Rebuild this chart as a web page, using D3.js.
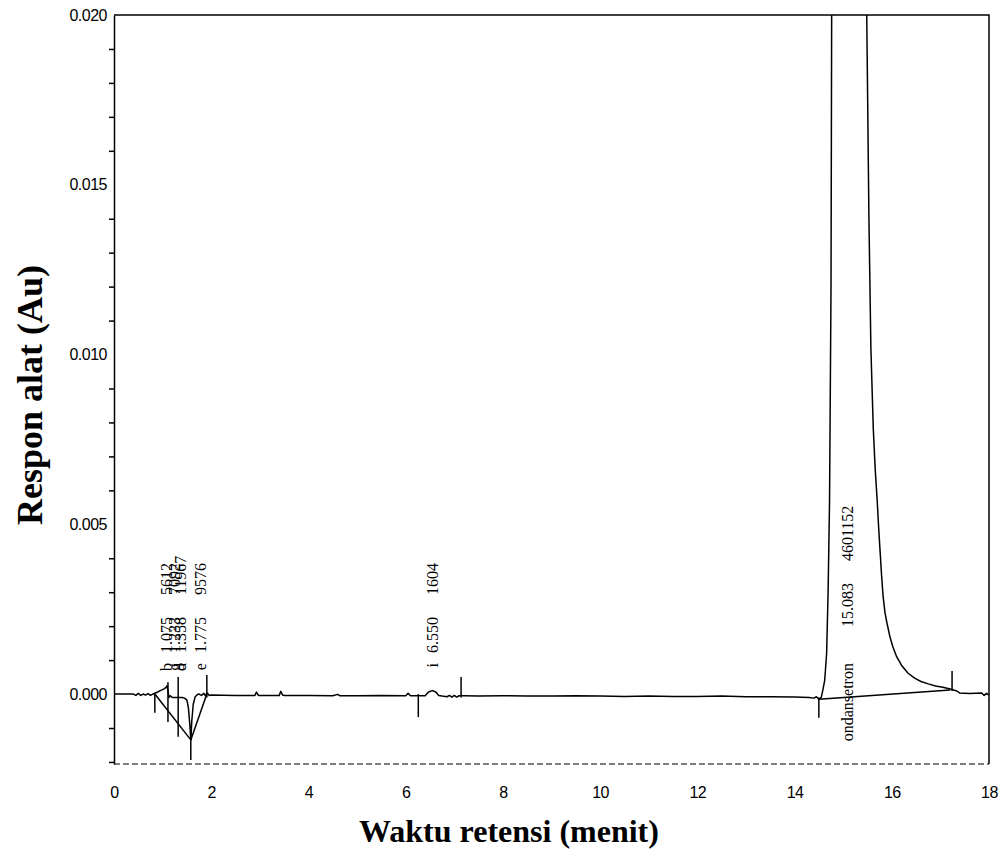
<!DOCTYPE html>
<html>
<head>
<meta charset="utf-8">
<script src="https://cdn.jsdelivr.net/npm/d3@7"></script>
<style>
  body { margin: 0; background: #fff; }
</style>
</head>
<body>
<div id="chart"></div>
<script>
// retention time (min) and detector response (AU)
var times = [0, 0.2, 0.4, 0.45, 0.5, 0.55, 0.6, 0.65, 0.7, 0.75, 0.8, 0.85, 0.9, 0.95, 1.0, 1.04, 1.07, 1.09, 1.11, 1.13,
  1.16, 1.2, 1.25, 1.3, 1.35, 1.4, 1.45, 1.5, 1.53, 1.56, 1.58, 1.6, 1.63, 1.67, 1.71, 1.75, 1.8, 1.85, 1.88, 1.92,
  1.96, 2.0, 2.5, 2.9, 2.93, 2.97, 3.0, 3.4, 3.43, 3.47, 3.5, 4.0, 4.5, 4.6, 4.65, 5.0, 5.5, 6.0, 6.05, 6.1,
  6.4, 6.47, 6.55, 6.62, 6.68, 6.75, 6.85, 6.9, 6.95, 7.0, 7.05, 7.1, 7.2, 7.5, 8.0, 8.5, 9.0, 9.5, 10.0, 10.5,
  11.0, 11.5, 12.0, 12.5, 13.0, 13.5, 14.0, 14.3, 14.4, 14.45, 14.5, 14.55, 14.58, 14.62, 14.66, 14.69, 14.72, 14.75, 14.78, 15.08,
  15.47, 15.5, 15.53, 15.57, 15.62, 15.66, 15.7, 15.73, 15.76, 15.79, 15.82, 15.86, 15.9, 15.96, 16.02, 16.1, 16.2, 16.33, 16.47, 16.6,
  16.75, 16.9, 17.05, 17.2, 17.34, 17.4, 17.6, 17.85, 17.9, 17.95, 18.0];
var signal = [0, 0, 0, -0.00004, 0.00002, -0.00004, 0, -0.00003, 0.00001, -0.00004, 0, 0.00003, 0.00006, 0.0001, 0.00013, 0.00016, 0.0002, 0.00024, 0.0001, -0.0001,
  -0.00005, -0.0001, -0.0001, -0.0001, -0.0001, -0.0001, -0.00012, -0.00018, -0.0004, -0.0009, -0.00135, -0.0008, -0.0003, -0.00008, -0.00002, 0, -0.00004, 0.00002, -0.00005, 0.00003,
  -0.00004, -0.00003, -0.00004, -0.00004, 0.00006, -0.00004, -0.00004, -0.00004, 0.00008, -0.00003, -0.00004, -0.00004, -0.00005, -0.00001, -0.00005, -0.00005, -0.00004, -0.00005, 0.00002, -0.00005,
  -0.00005, 0.00006, 0.0001, 0.00006, -0.00004, -0.00006, -0.00008, -0.00004, -0.00009, -0.00004, -0.00009, -0.00005, -0.00005, -0.00006, -0.00005, -0.00006, -0.00006, -0.00005, -0.00006, -0.00007,
  -0.00006, -0.00007, -0.00007, -0.00006, -0.00008, -0.00008, -0.00009, -0.0001, -0.00012, -0.00008, -0.00015, -0.0001, 0.0001, 0.0004, 0.0012, 0.003, 0.0057, 0.012, 0.03, 0.06,
  0.022, 0.018, 0.014, 0.0102, 0.0078, 0.0066, 0.0057, 0.0049, 0.0042, 0.0035, 0.0029, 0.0024, 0.0021, 0.0017, 0.0014, 0.0011, 0.00085, 0.00062, 0.00047, 0.00037,
  0.0003, 0.00024, 0.0002, 0.00015, 0.00009, 0.00003, 0.00002, 0.00003, -0.00004, 0.00002, -0.00003];

// peak table: name, retention time, area
var peakNames = ["b", "g", "d", "e", "i", "ondansetron"];
var peakTimes = [1.075, 1.233, 1.358, 1.775, 6.550, 15.083];
var peakAreas = [5612, 7092, 11967, 9576, 1604, 4601152];

// integration baselines drawn under the peaks
var baseFrom = [[0.84, 0], [1.58, -0.00135], [14.50, -0.00015]];
var baseTo = [[1.58, -0.00135], [1.91, 0], [17.2, 0.00012]];

// peak start / end markers: time, upper and lower value
var markTimes = [0.84, 1.11, 1.32, 1.58, 1.91, 6.26, 7.14, 14.50, 17.24];
var markHigh = [0, 0.00035, 0.0005, -0.00112, 0.00056, 0, 0.0005, -0.0001, 0.00068];
var markLow = [-0.00055, -0.00082, -0.00126, -0.00194, -0.0001, -0.00068, -0.0001, -0.0007, 0.00009];

// axis ticks
var xTicks = [0, 2, 4, 6, 8, 10, 12, 14, 16, 18];
var yMajor = [0, 0.005, 0.010, 0.015, 0.020];
var yMinor = [-0.002, -0.001, 0.001, 0.002, 0.003, 0.004, 0.006, 0.007, 0.008, 0.009,
  0.011, 0.012, 0.013, 0.014, 0.016, 0.017, 0.018, 0.019];

var margin = {top: 15, right: 15, bottom: 89, left: 114},
    width = 1004 - margin.left - margin.right,
    height = 853 - margin.top - margin.bottom;

var svg = d3.select("#chart")
  .append("svg")
    .attr("width", width + margin.left + margin.right)
    .attr("height", height + margin.top + margin.bottom)
  .append("g")
    .attr("transform", "translate(" + margin.left + "," + margin.top + ")");

var x = d3.scaleLinear().domain([0, 18]).range([0, width]);
var y = d3.scaleLinear().domain([-0.00206, 0.020]).range([height, 0]);

svg.append("clipPath").attr("id", "plot")
  .append("rect").attr("width", width).attr("height", height);

// the trace
var pts = times.map(function(t, i) { return [t, signal[i]]; });
svg.append("path")
  .datum(pts)
  .attr("clip-path", "url(#plot)")
  .attr("fill", "none")
  .attr("stroke", "#000")
  .attr("stroke-width", 1.5)
  .attr("stroke-linejoin", "round")
  .attr("d", d3.line()
    .x(function(d) { return x(d[0]); })
    .y(function(d) { return y(d[1]); }));

// integration baselines
svg.selectAll(".base")
  .data(baseFrom)
  .enter().append("line")
    .attr("x1", function(d) { return x(d[0]); })
    .attr("y1", function(d) { return y(d[1]); })
    .attr("x2", function(d, i) { return x(baseTo[i][0]); })
    .attr("y2", function(d, i) { return y(baseTo[i][1]); })
    .attr("stroke", "#000")
    .attr("stroke-width", 1.5);

// start / end markers
svg.selectAll(".mark")
  .data(markTimes)
  .enter().append("line")
    .attr("x1", function(d) { return x(d); })
    .attr("x2", function(d) { return x(d); })
    .attr("y1", function(d, i) { return y(markHigh[i]); })
    .attr("y2", function(d, i) { return y(markLow[i]); })
    .attr("stroke", "#000")
    .attr("stroke-width", 1.5);

// peak labels, written upwards
var labelFont = "'Liberation Serif', 'Times New Roman', serif";
var nameTop = y(0) - 31;
peakNames.forEach(function(name, i) {
  var px = x(peakTimes[i]);
  var g = svg.append("g");
  g.append("text")
    .attr("transform", "translate(" + px + "," + nameTop + ") rotate(-90)")
    .attr("text-anchor", "end")
    .attr("dy", "0.35em")
    .style("font-family", labelFont)
    .style("font-size", "16px")
    .text(name);
  var timeStart = nameTop - (name.length > 1 ? 36 : 10);
  var tt = g.append("text")
    .attr("transform", "translate(" + px + "," + timeStart + ") rotate(-90)")
    .attr("dy", "0.35em")
    .style("font-family", labelFont)
    .style("font-size", "16px")
    .text(peakTimes[i].toFixed(3));
  var areaStart = timeStart - tt.node().getComputedTextLength() - 22;
  g.append("text")
    .attr("transform", "translate(" + px + "," + areaStart + ") rotate(-90)")
    .attr("dy", "0.35em")
    .style("font-family", labelFont)
    .style("font-size", "16px")
    .text(peakAreas[i]);
});

// Y axis: minor ticks + axis line, then labels on the major values
svg.append("g")
  .attr("class", "ytick")
  .call(d3.axisLeft(y).tickValues(yMinor).tickSize(5).tickSizeOuter(0).tickFormat(""));
svg.append("g")
  .attr("class", "ylab")
  .call(d3.axisLeft(y).tickValues(yMajor).tickSize(0).tickPadding(7).tickFormat(d3.format(".3f")))
  .call(function(g) { g.select(".domain").remove(); });

// X axis labels only, the axis itself is dashed
svg.append("g")
  .attr("class", "xlab")
  .attr("transform", "translate(0," + height + ")")
  .call(d3.axisBottom(x).tickValues(xTicks).tickSize(0).tickPadding(23).tickFormat(d3.format("d")))
  .call(function(g) { g.select(".domain").remove(); });

svg.append("line")
  .attr("x1", 0).attr("x2", width)
  .attr("y1", height).attr("y2", height)
  .attr("stroke", "#000")
  .attr("stroke-width", 1.2)
  .attr("stroke-dasharray", "6,3");

// frame top and right
svg.append("path")
  .attr("d", "M0,0H" + width + "V" + height)
  .attr("fill", "none")
  .attr("stroke", "#000")
  .attr("stroke-width", 1.5);

svg.selectAll(".ytick path, .ytick line").attr("stroke", "#000").attr("stroke-width", 1.5);
svg.selectAll(".ylab text, .xlab text")
  .style("font-family", "'Liberation Sans', Arial, sans-serif")
  .style("font-size", "16px")
  .style("letter-spacing", "-0.5px")
  .attr("fill", "#000");

// axis titles
svg.append("text")
  .attr("x", 395)
  .attr("y", height + 78)
  .attr("text-anchor", "middle")
  .style("font-family", "'Liberation Serif', 'Times New Roman', serif")
  .style("font-weight", "bold")
  .style("font-size", "32px")
  .text("Waktu retensi (menit)");

svg.append("text")
  .attr("transform", "translate(" + (42 - margin.left) + "," + (395 - margin.top) + ") rotate(-90)")
  .attr("text-anchor", "middle")
  .style("font-family", "'Liberation Serif', 'Times New Roman', serif")
  .style("font-weight", "bold")
  .style("font-size", "36px")
  .text("Respon alat (Au)");
</script>
</body>
</html>
